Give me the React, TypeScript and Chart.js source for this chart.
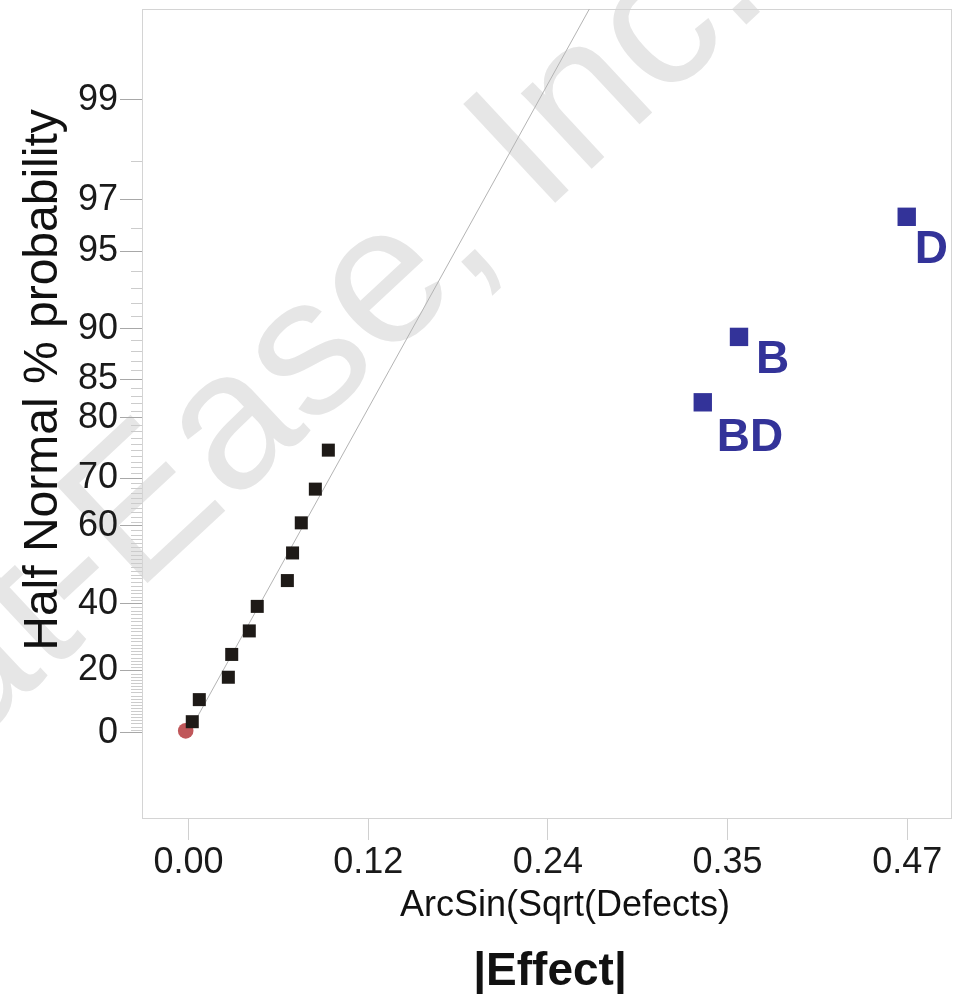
import React, { useEffect, useRef } from "react";
import { Chart, registerables } from "chart.js";

Chart.register(...registerables);

// ---------- data ----------
// |Effect| values (ArcSin(Sqrt(Defects))) of the unlabeled effects
const smallEffects = [0.0024, 0.007, 0.026, 0.0282, 0.0397, 0.0449, 0.0646, 0.068, 0.0737, 0.0829, 0.0914];
// their half-normal % probability
const smallProbs = [3.57, 10.71, 17.86, 25.0, 32.14, 39.29, 46.43, 53.57, 60.71, 67.86, 75.0];

// labelled (significant) terms
const termNames = ["BD", "B", "D"];
const termEffects = [0.3363, 0.36, 0.4697];
const termProbs = [82.14, 89.29, 96.43];

// red marker near the origin
const originEffects = [-0.0019];
const originProbs = [0.6];

// fitted half-normal line through the origin (z-units per unit |effect|)
const fitSlope = 11.24;
const fitEffectEnd = 0.28;

// axis ticks
const yTickLabels = [0, 20, 40, 60, 70, 80, 85, 90, 95, 97, 99];
const xTickValues = [0, 0.1175, 0.235, 0.3525, 0.47];
const xTickLabels = ["0.00", "0.12", "0.24", "0.35", "0.47"];

// axis limits (x in |effect|, y in half-normal z units)
const xMin = -0.03048;
const xMax = 0.49866;
const yMin = -0.3473;
const yMax = 2.9463;

// ---------- styles ----------
const FONT = "'Liberation Sans', Arial, Helvetica, sans-serif";
const labelOffsets = [
  [14, 49],
  [17, 36],
  [8, 46],
];

// inverse normal CDF (Acklam)
function probit(p: number): number {
  const a = [-3.969683028665376e1, 2.209460984245205e2, -2.759285104469687e2, 1.38357751867269e2, -3.066479806614716e1, 2.506628277459239];
  const b = [-5.447609879822406e1, 1.615858368580409e2, -1.556989798598866e2, 6.680131188771972e1, -1.328068155288572e1];
  const c = [-7.784894002430293e-3, -3.223964580411365e-1, -2.400758277161838, -2.549732539343734, 4.374664141464968, 2.938163982698783];
  const d = [7.784695709041462e-3, 3.224671290700398e-1, 2.445134137142996, 3.754408661907416];
  const pl = 0.02425;
  const ph = 1 - pl;
  if (p < pl) {
    const q = Math.sqrt(-2 * Math.log(p));
    return (((((c[0] * q + c[1]) * q + c[2]) * q + c[3]) * q + c[4]) * q + c[5]) / ((((d[0] * q + d[1]) * q + d[2]) * q + d[3]) * q + 1);
  }
  if (p <= ph) {
    const q = p - 0.5;
    const r = q * q;
    return ((((((a[0] * r + a[1]) * r + a[2]) * r + a[3]) * r + a[4]) * r + a[5]) * q) / (((((b[0] * r + b[1]) * r + b[2]) * r + b[3]) * r + b[4]) * r + 1);
  }
  const q = Math.sqrt(-2 * Math.log(1 - p));
  return -(((((c[0] * q + c[1]) * q + c[2]) * q + c[3]) * q + c[4]) * q + c[5]) / ((((d[0] * q + d[1]) * q + d[2]) * q + d[3]) * q + 1);
}
// half-normal % probability -> z
const hn = (pct: number) => (pct <= 0 ? 0 : probit(0.5 + pct / 200));

const minorTickPcts = Array.from({ length: 98 }, (_, i) => i + 1).filter((p) => !yTickLabels.includes(p));

const zeroPadding = (scale: any) => {
  scale.paddingTop = 0;
  scale.paddingBottom = 0;
  scale.paddingLeft = 0;
  scale.paddingRight = 0;
};

const decorPlugin = {
  id: "decor",
  beforeDraw(chart: any) {
    const ctx = chart.ctx;
    ctx.save();
    ctx.fillStyle = "#ffffff";
    ctx.fillRect(0, 0, chart.width, chart.height);
    // watermark
    ctx.translate(303, 438);
    ctx.rotate((-43 * Math.PI) / 180);
    ctx.font = `196px ${FONT}`;
    ctx.fillStyle = "#e6e6e6";
    ctx.textAlign = "center";
    ctx.textBaseline = "alphabetic";
    ctx.fillText("Stat-Ease, Inc.", 0, 0);
    ctx.restore();
  },
  beforeDatasetsDraw(chart: any) {
    const ctx = chart.ctx;
    const { left, top, right, bottom } = chart.chartArea;
    const ys = chart.scales.y;
    ctx.save();
    ctx.strokeStyle = "#d4d4d4";
    ctx.lineWidth = 1;
    ctx.strokeRect(Math.round(left) + 0.5, Math.round(top) + 0.5, Math.round(right - left), Math.round(bottom - top));
    ctx.strokeStyle = "#cccccc";
    ctx.beginPath();
    for (const p of minorTickPcts) {
      const y = Math.round(ys.getPixelForValue(hn(p))) + 0.5;
      ctx.moveTo(left - 11, y);
      ctx.lineTo(left, y);
    }
    ctx.stroke();
    ctx.restore();
  },
  afterDatasetsDraw(chart: any) {
    const ctx = chart.ctx;
    const xs = chart.scales.x;
    const ys = chart.scales.y;
    ctx.save();
    ctx.font = `bold 46px ${FONT}`;
    ctx.fillStyle = "#333399";
    ctx.textAlign = "left";
    ctx.textBaseline = "alphabetic";
    termNames.forEach((name, i) => {
      const px = xs.getPixelForValue(termEffects[i]);
      const py = ys.getPixelForValue(hn(termProbs[i]));
      ctx.fillText(name, px + labelOffsets[i][0], py + labelOffsets[i][1]);
    });
    ctx.restore();
  },
  afterDraw(chart: any) {
    const ctx = chart.ctx;
    ctx.save();
    ctx.fillStyle = "#111111";
    ctx.textBaseline = "alphabetic";
    ctx.textAlign = "center";
    // y title
    ctx.save();
    ctx.translate(57, 380);
    ctx.rotate(-Math.PI / 2);
    ctx.font = `48px ${FONT}`;
    ctx.fillText("Half Normal % probability", 0, 0);
    ctx.restore();
    // x titles
    ctx.font = `36px ${FONT}`;
    ctx.fillText("ArcSin(Sqrt(Defects)", 565, 916);
    ctx.font = `bold 46px ${FONT}`;
    ctx.fillText("|Effect|", 550, 985);
    ctx.restore();
  },
};

export default function App() {
  const canvasRef = useRef<HTMLCanvasElement | null>(null);

  useEffect(() => {
    if (!canvasRef.current) return;
    Chart.defaults.font.family = FONT;
    const chart = new Chart(canvasRef.current, {
      type: "scatter",
      data: {
        datasets: [
          {
            label: "small",
            data: smallEffects.map((x, i) => ({ x, y: hn(smallProbs[i]) })),
            pointStyle: "rect",
            pointRadius: 9.2,
            pointHoverRadius: 9.2,
            backgroundColor: "#1e1a17",
            borderWidth: 0,
            order: 0,
          },
          {
            label: "terms",
            data: termEffects.map((x, i) => ({ x, y: hn(termProbs[i]) })),
            pointStyle: "rect",
            pointRadius: 13,
            pointHoverRadius: 13,
            backgroundColor: "#333399",
            borderWidth: 0,
            order: 1,
          },
          {
            label: "origin",
            data: originEffects.map((x, i) => ({ x, y: hn(originProbs[i]) })),
            pointStyle: "circle",
            pointRadius: 7.8,
            pointHoverRadius: 7.8,
            backgroundColor: "#c0575a",
            borderWidth: 0,
            order: 2,
          },
          {
            type: "line" as any,
            label: "fit",
            data: [
              { x: 0, y: 0 },
              { x: fitEffectEnd, y: fitEffectEnd * fitSlope },
            ],
            borderColor: "#b4b4b4",
            borderWidth: 1,
            pointRadius: 0,
            fill: false,
            order: 3,
          },
        ],
      },
      options: {
        animation: false,
        responsive: false,
        maintainAspectRatio: false,
        layout: { autoPadding: false, padding: { left: 0, top: 9, right: 3, bottom: 0 } },
        plugins: { legend: { display: false }, tooltip: { enabled: false }, title: { display: false } },
        events: [],
        scales: {
          x: {
            type: "linear",
            min: xMin,
            max: xMax,
            afterBuildTicks: (scale: any) => {
              scale.ticks = xTickValues.map((v) => ({ value: v }));
            },
            afterFit: (scale: any) => {
              scale.height = 176;
              zeroPadding(scale);
            },
            ticks: {
              autoSkip: false,
              maxRotation: 0,
              color: "#1a1a1a",
              font: { size: 36, family: FONT },
              padding: 1,
              callback: (_v: any, i: number) => xTickLabels[i],
            },
            grid: { drawOnChartArea: false, drawTicks: true, tickLength: 22, tickColor: "#d0d0d0", tickWidth: 1 },
            border: { display: false },
          },
          y: {
            type: "linear",
            min: yMin,
            max: yMax,
            afterBuildTicks: (scale: any) => {
              scale.ticks = yTickLabels.map((p) => ({ value: hn(p) }));
            },
            afterFit: (scale: any) => {
              scale.width = 142;
              zeroPadding(scale);
            },
            ticks: {
              autoSkip: false,
              color: "#1a1a1a",
              font: { size: 36, family: FONT },
              padding: 2,
              callback: (_v: any, i: number) => String(yTickLabels[i]),
            },
            grid: { drawOnChartArea: false, drawTicks: true, tickLength: 22, tickColor: "#a8a8a8", tickWidth: 1 },
            border: { display: false },
          },
        },
      },
      plugins: [decorPlugin],
    });
    return () => chart.destroy();
  }, []);

  return (
    <div style={{ position: "absolute", left: 0, top: 0, width: 954, height: 994, background: "#fff" }}>
      <canvas ref={canvasRef} width={954} height={994} style={{ display: "block", width: 954, height: 994 }} />
    </div>
  );
}
